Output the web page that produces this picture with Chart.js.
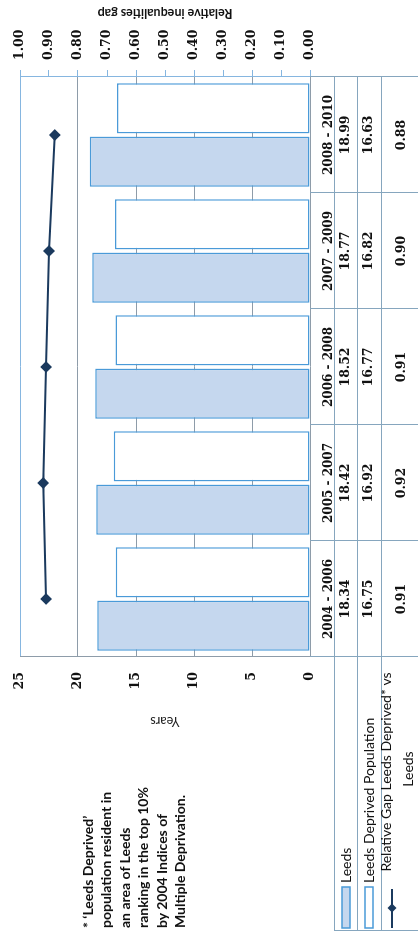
<!DOCTYPE html>
<html>
<head>
<meta charset="utf-8">
<script src="https://cdn.jsdelivr.net/npm/chart.js@4"></script>
<style>
  html, body { margin: 0; padding: 0; background: #fff; overflow: hidden; }
  /* The chart is laid out landscape and turned a quarter turn anticlockwise */
  #stage {
    position: absolute; left: 0; top: 0;
    width: 939px; height: 418px;
    transform-origin: 0 0;
    transform: translateY(939px) rotate(-90deg);
    background: #fff;
  }
  #chart { position: absolute; left: 0; top: 0; }
  #note {
    position: absolute; left: 11px; top: 79px;
    font: bold 14px Lato, "Open Sans", sans-serif;
    line-height: 18.4px; color: #111; white-space: nowrap;
  }
</style>
</head>
<body>
<div id="stage">
  <canvas id="chart" width="939" height="418"></canvas>
  <div id="note">* ‘Leeds Deprived’<br>population resident in<br>an area of Leeds<br>ranking in the top 10%<br>by 2004 Indices of<br>Multiple Deprivation.</div>
</div>
<script>
// Leeds vs Leeds Deprived population (years), with the relative gap between them, by period
const periods = ['2004 - 2006', '2005 - 2007', '2006 - 2008', '2007 - 2009', '2008 - 2010'];
const leedsYears = [18.34, 18.42, 18.52, 18.77, 18.99];
const deprivedYears = [16.75, 16.92, 16.77, 16.82, 16.63];
const relativeGap = [0.91, 0.92, 0.91, 0.90, 0.88];
const seriesNames = ['Leeds', 'Leeds Deprived Population', 'Relative Gap Leeds Deprived* vs', 'Leeds'];
const yearsTitle = 'Years';
const gapTitle = 'Relative inequalities gap';

const BAR_FILL = '#c5d7ee';
const BAR_EDGE = '#4a9ad8';
const FRAME = '#86b6e0';
const GRID = '#8e9ca9';
const TABLE = '#86a6be';
const LINE = '#1b3a5e';
const NUM = '"DejaVu Serif", "Liberation Serif", serif';
const SANS = 'Lato, "Open Sans", sans-serif';

// Keep the plot area fixed: vertical axes claim no extra space above/below it
function fixVertical(width) {
  return s => { s.width = width; s.paddingTop = 0; s.paddingBottom = 0; };
}

// Data table under the plot, legend column, and the secondary axis title
const tablePlugin = {
  id: 'dataTable',
  afterDraw(chart) {
    const { ctx, chartArea: area, scales: { x } } = chart;
    const n = periods.length;
    const step = (x.right - x.left) / n;
    const top = area.bottom;
    const r1 = top + 24, r2 = top + 47, r3 = top + 71, end = chart.height + 10;
    const legLeft = 8;

    ctx.save();
    ctx.strokeStyle = TABLE;
    ctx.lineWidth = 1;
    ctx.beginPath();
    [r1, r2, r3].forEach(y => { ctx.moveTo(legLeft, Math.round(y) + 0.5); ctx.lineTo(x.right, Math.round(y) + 0.5); });
    for (let k = 0; k <= n; k++) {
      const bx = Math.round(x.left + k * step) + 0.5;
      ctx.moveTo(bx, top); ctx.lineTo(bx, end);
    }
    ctx.moveTo(legLeft + 0.5, r1); ctx.lineTo(legLeft + 0.5, end);
    ctx.stroke();

    // values in each period column
    ctx.fillStyle = '#111';
    ctx.textAlign = 'center';
    ctx.textBaseline = 'middle';
    ctx.font = 'bold 12.5px ' + NUM;
    for (let i = 0; i < n; i++) {
      const cx = x.getPixelForValue(i);
      ctx.fillText(leedsYears[i].toFixed(2), cx, r1 + 12);
      ctx.fillText(deprivedYears[i].toFixed(2), cx, r2 + 12);
      ctx.fillText(relativeGap[i].toFixed(2), cx, r3 + 21);
    }

    // legend keys
    ctx.lineWidth = 1.5;
    ctx.fillStyle = BAR_FILL; ctx.strokeStyle = BAR_EDGE;
    ctx.fillRect(11, r1 + 8, 41, 8); ctx.strokeRect(11, r1 + 8, 41, 8);
    ctx.fillStyle = '#fff';
    ctx.fillRect(11, r2 + 8, 41, 8); ctx.strokeRect(11, r2 + 8, 41, 8);
    ctx.strokeStyle = LINE; ctx.lineWidth = 2;
    ctx.beginPath(); ctx.moveTo(11, r3 + 11); ctx.lineTo(50, r3 + 11); ctx.stroke();
    ctx.fillStyle = LINE;
    ctx.beginPath();
    const dx = 31, dy = r3 + 11, d = 4.5;
    ctx.moveTo(dx, dy - d); ctx.lineTo(dx + d, dy); ctx.lineTo(dx, dy + d); ctx.lineTo(dx - d, dy);
    ctx.closePath(); ctx.fill();

    // legend labels
    ctx.fillStyle = '#111';
    ctx.font = '14px ' + SANS;
    ctx.textAlign = 'left';
    ctx.fillText(seriesNames[0], 56, r1 + 12);
    ctx.fillText(seriesNames[1], 56, r2 + 12);
    ctx.textAlign = 'center';
    ctx.fillText(seriesNames[2], 167, r3 + 5);
    ctx.fillText(seriesNames[3], 170, r3 + 27);

    // secondary axis title, reading upwards
    ctx.font = 'bold 12.5px ' + SANS;
    ctx.translate(926, (area.top + area.bottom) / 2);
    ctx.rotate(-Math.PI / 2);
    ctx.fillText(gapTitle, 0, 0);
    ctx.restore();
  }
};

new Chart(document.getElementById('chart'), {
  type: 'bar',
  data: {
    labels: periods,
    datasets: [
      {
        type: 'line', label: seriesNames[2] + ' ' + seriesNames[3], data: relativeGap, yAxisID: 'y1',
        borderColor: LINE, backgroundColor: LINE, borderWidth: 2,
        pointStyle: 'rectRot', pointRadius: 4.5, pointBackgroundColor: LINE, pointBorderColor: LINE,
        tension: 0, order: 0
      },
      {
        label: seriesNames[0], data: leedsYears, yAxisID: 'y',
        backgroundColor: BAR_FILL, borderColor: BAR_EDGE, borderWidth: 1.5, borderSkipped: false,
        categoryPercentage: 0.92, barPercentage: 0.94, order: 1
      },
      {
        label: seriesNames[1], data: deprivedYears, yAxisID: 'y',
        backgroundColor: '#ffffff', borderColor: BAR_EDGE, borderWidth: 1.5, borderSkipped: false,
        categoryPercentage: 0.92, barPercentage: 0.94, order: 1
      }
    ]
  },
  options: {
    responsive: false,
    animation: false,
    devicePixelRatio: 1,
    layout: { padding: { top: 20, left: 0, right: 0, bottom: 0 } },
    plugins: { legend: { display: false }, tooltip: { enabled: false } },
    scales: {
      x: {
        grid: { display: false },
        border: { display: false },
        ticks: { color: '#111', font: { family: NUM, size: 12, weight: 'bold' }, padding: 4, maxRotation: 0, autoSkip: false },
        afterFit(s) { s.height = 108; }
      },
      y: {
        position: 'left', min: 0, max: 25,
        ticks: { stepSize: 5, color: '#111', font: { family: NUM, size: 12.5, weight: 'bold' }, padding: 15 },
        grid: { drawTicks: false, color: c => (c.tick && c.tick.value === 25) ? FRAME : GRID, lineWidth: 1 },
        border: { display: true, color: GRID },
        title: { display: true, text: yearsTitle, color: '#222', font: { family: SANS, size: 12.5 }, padding: { top: 210, bottom: 0 } },
        afterFit: fixVertical(282)
      },
      y1: {
        position: 'right', min: 0, max: 1,
        ticks: { stepSize: 0.1, color: '#111', font: { family: NUM, size: 12.5, weight: 'bold' }, padding: 10,
                 callback: v => Number(v).toFixed(2) },
        grid: { drawOnChartArea: false, drawTicks: true, tickLength: 7, color: FRAME },
        border: { display: true, color: FRAME },
        afterFit: fixVertical(77)
      }
    }
  },
  plugins: [tablePlugin]
});
</script>
</body>
</html>
